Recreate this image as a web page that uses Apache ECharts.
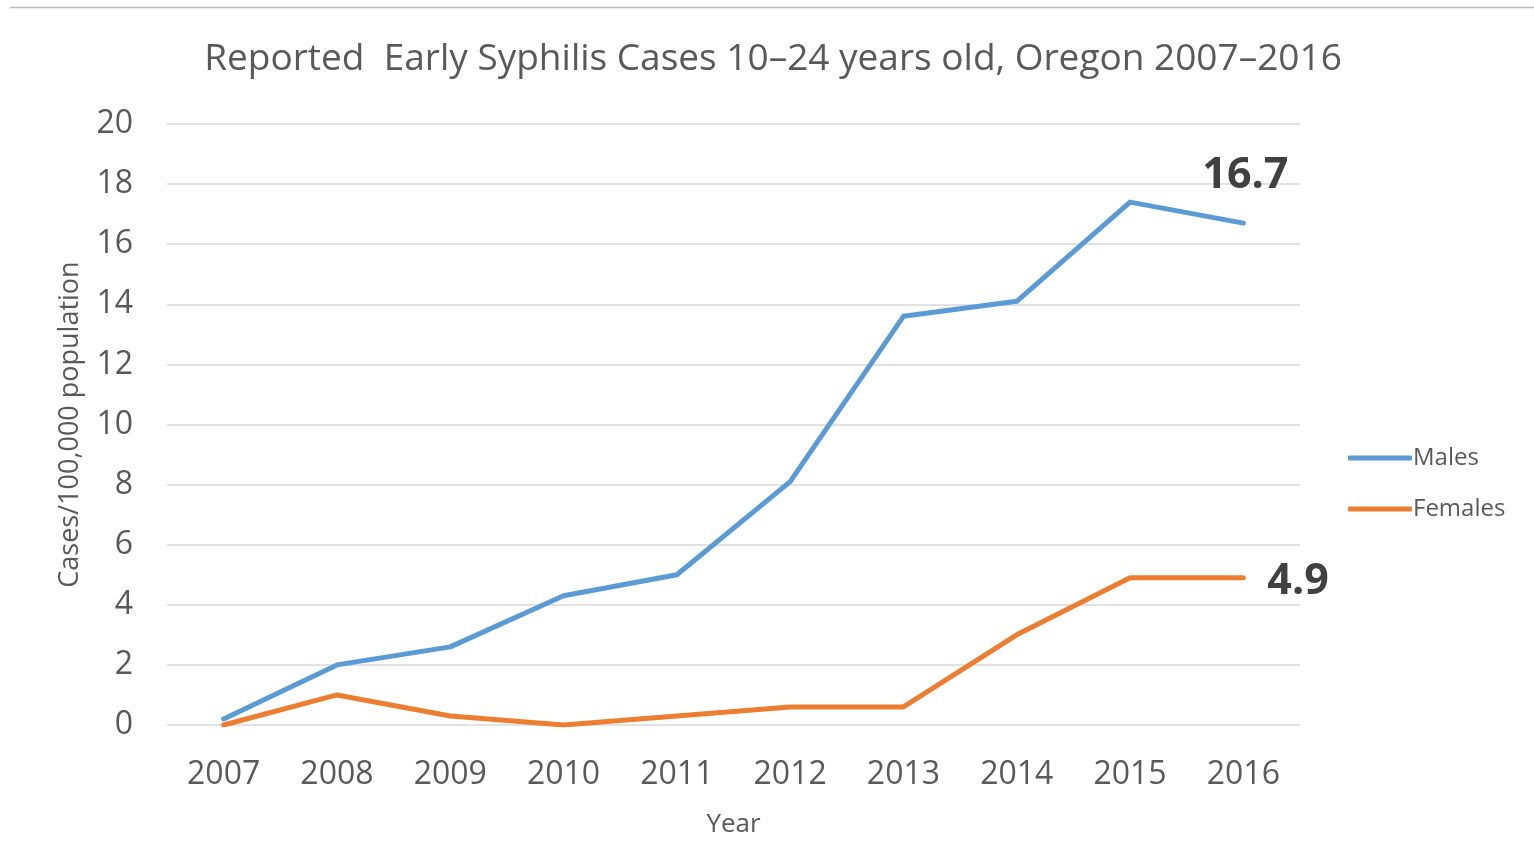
<!DOCTYPE html>
<html>
<head>
<meta charset="utf-8">
<script src="https://cdn.jsdelivr.net/npm/echarts@6/dist/echarts.min.js"></script>
<style>
  html, body { margin: 0; padding: 0; background: #fff; }
  #main { width: 1534px; height: 854px; }
</style>
</head>
<body>
<div id="main"></div>
<script>
var chartDom = document.getElementById('main');
var myChart = echarts.init(chartDom);
var option;

const years = ['2007', '2008', '2009', '2010', '2011', '2012', '2013', '2014', '2015', '2016'];
const males = [0.2, 2.0, 2.6, 4.3, 5.0, 8.1, 13.6, 14.1, 17.4, 16.7];
const females = [0.0, 1.0, 0.3, 0.0, 0.3, 0.6, 0.6, 3.0, 4.9, 4.9];

const blue = '#5b9bd5';
const orange = '#ed7d31';
const textColor = '#595959';
const font = 'Open Sans';

const endLabelStyle = { fontFamily: font, fontSize: 43, fontWeight: 'bold', color: '#404040' };

option = {
  animation: false,
  backgroundColor: '#fff',
  textStyle: { fontFamily: font },
  title: {
    text: 'Reported  Early Syphilis Cases 10\u201324 years old, Oregon 2007\u20132016',
    left: 768,
    textAlign: 'center',
    top: 36,
    textStyle: { fontFamily: font, fontSize: 37, fontWeight: 'normal', color: textColor }
  },
  graphic: [
    { type: 'line', shape: { x1: 10, y1: 7.5, x2: 1534, y2: 7.5 }, style: { stroke: '#bdbdbd', lineWidth: 1.5 } }
  ],
  legend: {
    orient: 'vertical',
    left: 1343,
    top: 441,
    itemWidth: 64,
    itemHeight: 5,
    itemGap: 27,
    icon: 'roundRect',
    data: ['Males', 'Females'],
    textStyle: { fontFamily: font, fontSize: 24, color: textColor, padding: [0, 0, 0, -4] }
  },
  grid: { left: 167, right: 234, top: 124, bottom: 129 },
  xAxis: {
    type: 'category',
    data: years,
    boundaryGap: true,
    name: 'Year',
    nameLocation: 'middle',
    nameGap: 87,
    nameTextStyle: { fontFamily: font, fontSize: 26, color: textColor },
    axisLine: { show: false },
    axisTick: { show: false },
    axisLabel: { fontFamily: font, fontSize: 32, color: textColor, margin: 34 }
  },
  yAxis: {
    type: 'value',
    min: 0,
    max: 20,
    interval: 2,
    name: 'Cases/100,000 population',
    nameLocation: 'middle',
    nameGap: 83,
    nameTextStyle: { fontFamily: font, fontSize: 27, color: textColor },
    axisLine: { show: false },
    axisTick: { show: false },
    splitLine: { lineStyle: { color: '#d9d9d9', width: 1.5 } },
    axisLabel: { fontFamily: font, fontSize: 32, color: textColor, margin: 34, padding: [5, 0, 0, 0] }
  },
  series: [
    {
      name: 'Males',
      type: 'line',
      data: males,
      showSymbol: false,
      lineStyle: { color: blue, width: 5, cap: 'round', join: 'round' },
      itemStyle: { color: blue },
      endLabel: Object.assign({ show: true, offset: [-49, -47] }, endLabelStyle)
    },
    {
      name: 'Females',
      type: 'line',
      data: females,
      showSymbol: false,
      lineStyle: { color: orange, width: 5, cap: 'round', join: 'round' },
      itemStyle: { color: orange },
      endLabel: Object.assign({ show: true, distance: 24, offset: [0, 4] }, endLabelStyle)
    }
  ]
};

myChart.setOption(option);
</script>
</body>
</html>
